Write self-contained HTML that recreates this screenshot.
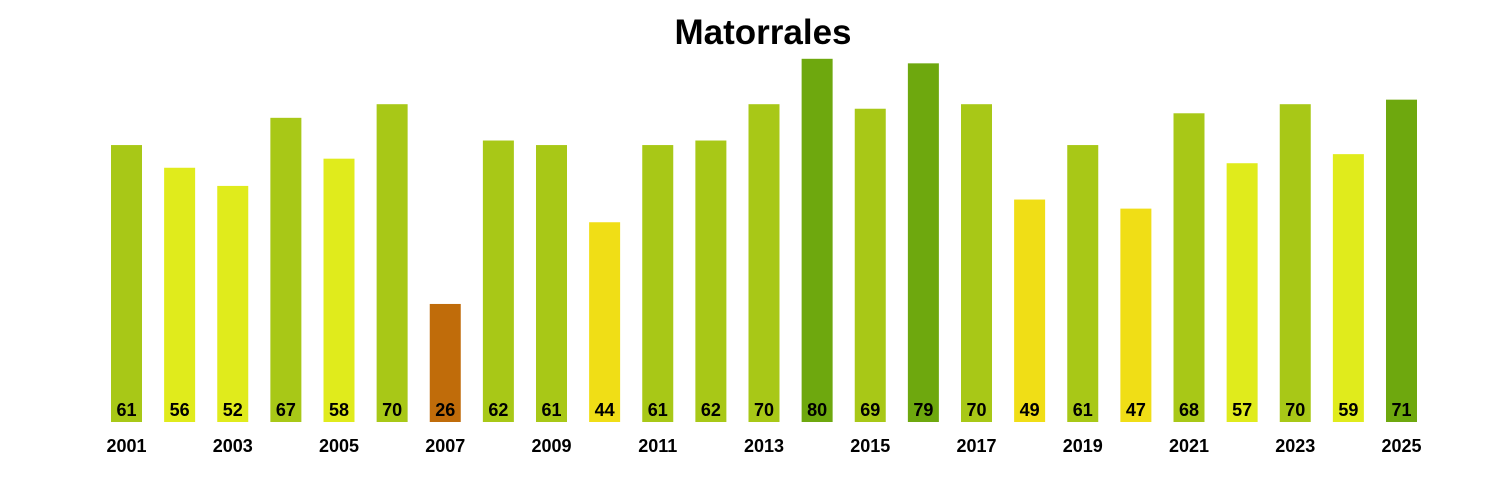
<!DOCTYPE html>
<html><head><meta charset="utf-8"><style>
html,body{margin:0;padding:0;background:#fff;width:1500px;height:500px;overflow:hidden}
</style></head><body>
<svg id="s" width="1500" height="500" xmlns="http://www.w3.org/2000/svg" font-family="Liberation Sans, Arial, sans-serif">
<text x="763" y="44" text-anchor="middle" font-size="35" font-weight="bold">Matorrales</text>
</svg>
<script>
var v=[61,56,52,67,58,70,26,62,61,44,61,62,70,80,69,79,70,49,61,47,68,57,70,59,71];
var s=document.getElementById('s'),h='';
function col(x){if(x==26)return'#c06c0a';if(x>=71)return'#6ea80e';if(x>=60)return'#a8c817';if(x>=50)return'#e0eb1c';return'#f0de16';}
v.forEach(function(x,i){var c=126.5+i*53.125,t=422-x*4.54;
h+='<rect x="'+(c-15.5)+'" y="'+t+'" width="31" height="'+(422-t)+'" fill="'+col(x)+'"/>';
h+='<text x="'+c+'" y="416" text-anchor="middle" font-size="18" font-weight="bold">'+x+'</text>';
if(i%2==0)h+='<text x="'+c+'" y="452" text-anchor="middle" font-size="18" font-weight="bold">'+(2001+i)+'</text>';});
s.insertAdjacentHTML('beforeend',h);
</script>
</body></html>
